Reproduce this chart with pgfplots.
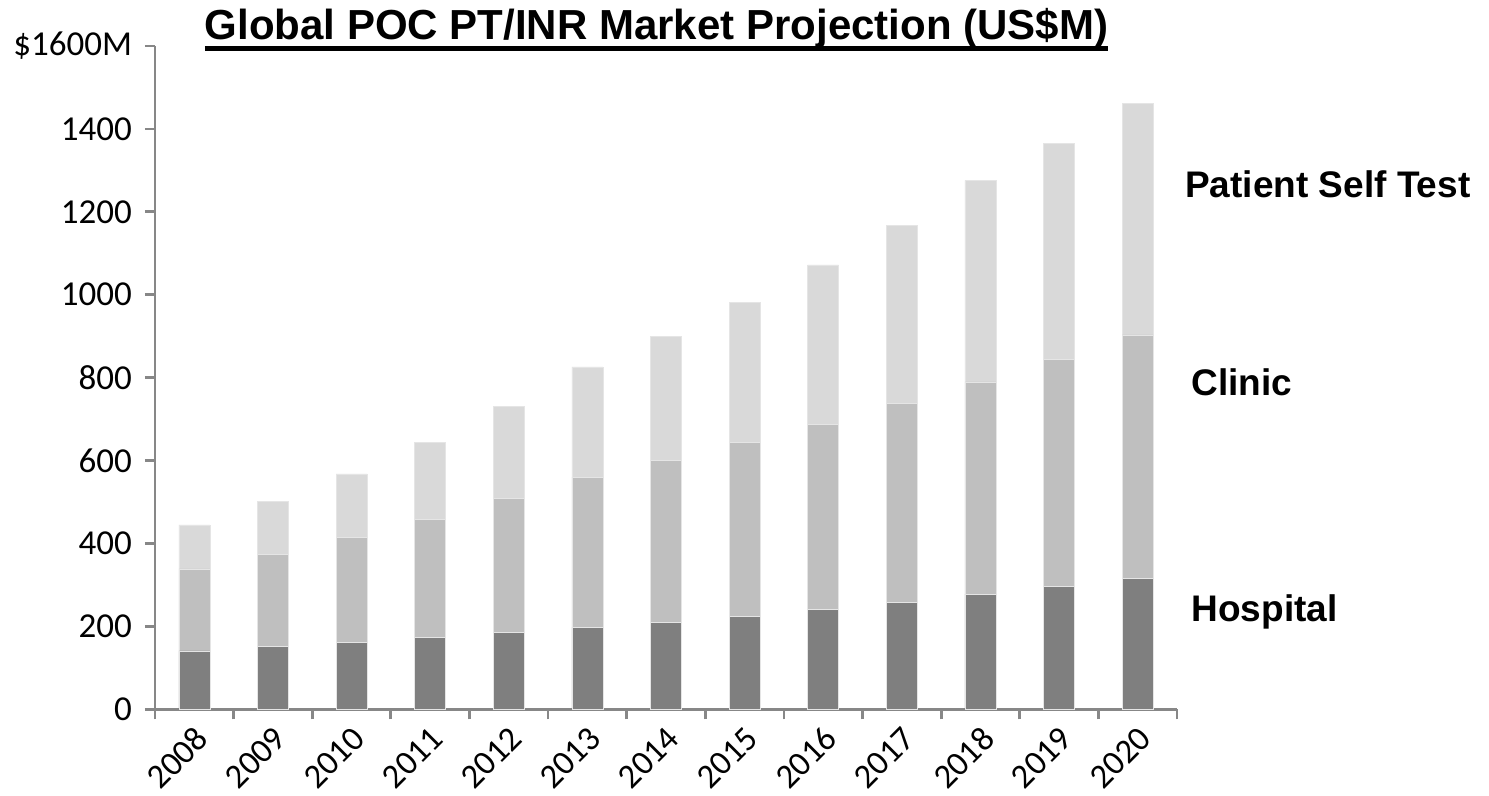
\documentclass[border=0pt]{standalone}
\usepackage{pgfplots}
\usepackage{pgfplotstable}
\pgfplotsset{compat=1.18}
\usepackage{fontspec}
\setmainfont{Carlito}
\newfontfamily\arialfont{Liberation Sans}
\definecolor{hospc}{HTML}{7F7F7F}
\definecolor{clinc}{HTML}{BFBFBF}
\definecolor{pstc}{HTML}{D9D9D9}
\definecolor{axgray}{HTML}{878787}
\newcommand\thickul[1]{\setbox0\hbox{#1}\leavevmode\rlap{\copy0}\raisebox{-5.5pt}{\rule{\wd0}{2.5pt}}}
\pgfplotstableread{
x year hosp clinic pst
0 2008 141 198 106
1 2009 151 222 129
2 2010 161 253 154
3 2011 173 286 184
4 2012 185 324 221
5 2013 198 362 266
6 2014 210 391 298
7 2015 225 419 338
8 2016 241 447 384
9 2017 259 479 429
10 2018 278 512 486
11 2019 297 547 522
12 2020 316 587 559
}\datatable
\begin{document}
\begin{tikzpicture}
\begin{axis}[
  name=ax,
  scale only axis,
  width=511pt, height=331.7pt,
  ymin=0, ymax=1600,
  xmin=-0.5, xmax=12.5,
  ybar stacked,
  bar width=15.5pt,
  axis lines*=left,
  axis line style={draw=axgray, line width=1.4pt},
  tick style={draw=axgray, line width=1.4pt},
  tick align=outside,
  major tick length=5pt,
  ytick={0,200,...,1600},
  yticklabels={0,200,400,600,800,1000,1200,1400,\$1600M},
  xtick={-0.5,0.5,...,12.5},
  x tick label as interval,
  xticklabels={2008,2009,2010,2011,2012,2013,2014,2015,2016,2017,2018,2019,2020},
  yticklabel style={font=\fontsize{17.5}{19}\selectfont, xshift=-3pt},
  xticklabel style={font=\fontsize{17.2}{19}\selectfont, rotate=45, anchor=north east, inner sep=1pt, xshift=-1pt, yshift=-0.5pt},
  clip=false,
]
\addplot[fill=hospc, draw=white!90!black, line width=0.3pt] table[x=x, y=hosp] {\datatable};
\addplot[fill=clinc, draw=white!90!black, line width=0.3pt] table[x=x, y=clinic] {\datatable};
\addplot[fill=pstc, draw=white!90!black, line width=0.3pt] table[x=x, y=pst] {\datatable};
\node[anchor=base, inner sep=0pt, font=\arialfont\bfseries\fontsize{21}{24}\selectfont] at (rel axis cs:0.4907,1) [yshift=3.2pt] {\thickul{Global POC PT/INR Market Projection (US\$M)}};
\node[anchor=base west, inner sep=0pt, font=\arialfont\bfseries\fontsize{18.5}{22}\selectfont] at (axis cs:12.60,1234) {Patient Self Test};
\node[anchor=base west, inner sep=0pt, font=\arialfont\bfseries\fontsize{18.5}{22}\selectfont] at (axis cs:12.68,758) {Clinic};
\node[anchor=base west, inner sep=0pt, font=\arialfont\bfseries\fontsize{18.5}{22}\selectfont] at (axis cs:12.68,211) {Hospital};
\end{axis}
\path (ax.south west) ++(-77.5pt,-42.85pt) coordinate (BL);
\path (ax.north east) ++(156pt,23pt) coordinate (TR);
\path (BL) rectangle (TR);
\end{tikzpicture}
\end{document}
